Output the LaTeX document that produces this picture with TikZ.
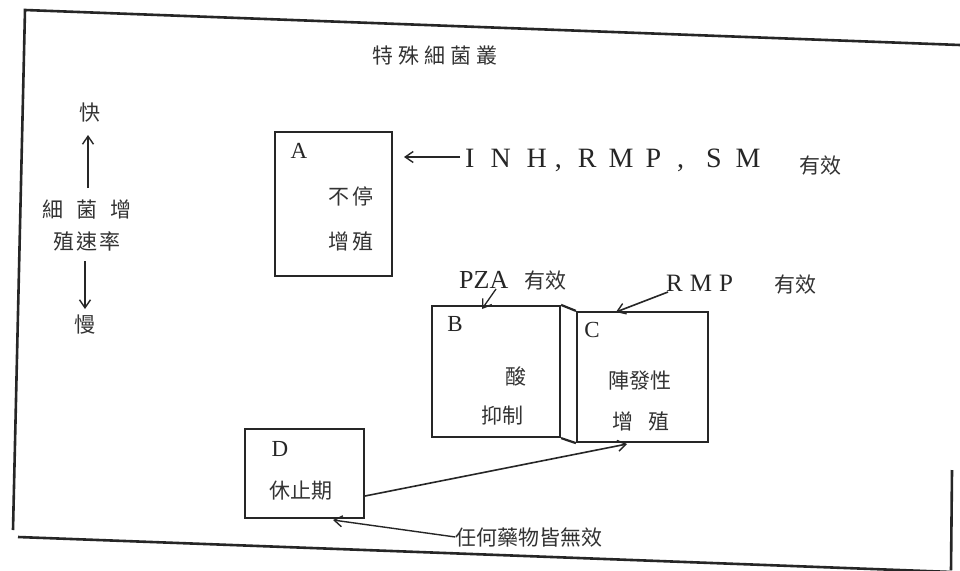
\documentclass[tikz,border=0pt]{standalone}
\usepackage{fontspec}
\setmainfont{Liberation Serif}
\newfontfamily\cjk{Noto Sans CJK TC}
\usetikzlibrary{arrows.meta}
\begin{document}
\begin{tikzpicture}[x=1pt,y=-1pt,
  frame/.style={line width=2.6pt,black!85},
  box/.style={draw,line width=2.2pt,black!85,inner sep=0pt},
  cj/.style={font=\cjk\fontsize{21}{25}\selectfont,text=black!80,inner sep=0pt},
  lat/.style={font=\fontsize{23}{26}\selectfont,text=black!85,inner sep=0pt},
  arr/.style={line width=1.4pt,black!85,-{Straight Barb[length=8pt,width=11pt,line width=1.4pt]}}]
\fill[white] (0,0) rectangle (960,570);
\useasboundingbox (0,0) rectangle (960,570);
% outer frame
\draw[frame] (13,530) -- (25,10) -- (960,45);
\draw[frame] (18,537) -- (952,572);
\draw[frame] (952,470) -- (951,570);
% title
\node[cj] (title) at (435,56) {特\hspace{5pt}殊\hspace{5pt}細\hspace{5pt}菌\hspace{5pt}叢};
% left scale
\node[cj] (fast) at (90,113) {快};
\node[cj] (row1) at (87,210) {細\hspace{13pt}菌\hspace{13pt}增};
\node[cj] (row2) at (87,241) {殖\hspace{2pt}速\hspace{2pt}率};
\node[cj] (slow) at (85,325) {慢};
\coordinate (upS) at (88,188);
\coordinate (upE) at (88,135);
\coordinate (dnS) at (85,261);
\coordinate (dnE) at (85,309);
\draw[arr] (upS) -- (upE);
\draw[arr] (dnS) -- (dnE);
% box A
\node[box,minimum width=117pt,minimum height=144pt] (A) at (333.5,204) {};
\node[lat] (Al) at (299,151) {A};
\node[cj] (A1) at (351,196) {不\hspace{3pt}停};
\node[cj] (A2) at (351,241) {增\hspace{3pt}殖};
\node[lat,anchor=west,font=\fontsize{28}{30}\selectfont] (inh) at (465,160) {I\hspace{16pt}N\hspace{16pt}H\hspace{8pt},\hspace{16pt}R\hspace{12pt}M\hspace{12pt}P\hspace{16pt},\hspace{22pt}S\hspace{14pt}M};
\node[cj] (inhe) at (820,166) {有效};
\coordinate (Atip) at (404,157);
\coordinate (Asrc) at (460,157);
\draw[arr,line width=1.2pt] (Asrc) -- (Atip);
% boxes B and C
\node[box,minimum width=128pt,minimum height=131pt] (B) at (496,371.5) {};
\node[box,minimum width=131pt,minimum height=130pt] (C) at (642.5,377) {};
\draw[line width=2.2pt,black!85] (B.north east) -- (C.north west);
\draw[line width=2.2pt,black!85] (B.south east) -- (C.south west);
\node[lat] (Bl) at (455,324) {B};
\node[cj] (B1) at (516,376) {酸};
\node[cj] (B2) at (502,416) {抑制};
\node[lat] (Cl) at (592,330) {C};
\node[cj] (C1) at (640,381) {陣發性};
\node[cj] (C2) at (641,421) {增\hspace{16pt}殖};
\node[lat,anchor=west,font=\fontsize{26}{28}\selectfont] (pza) at (459,280) {PZA};
\node[cj,anchor=west] (pzae) at (524,281) {有效};
\coordinate (Bsrc) at (496,289);
\coordinate (Btip) at (482,309);
\draw[arr,line width=1.3pt] (Bsrc) -- (Btip);
\node[lat,anchor=west,font=\fontsize{25}{28}\selectfont] (rmp) at (666,283) {R\hspace{7pt}M\hspace{7pt}P};
\node[cj,anchor=west] (rmpe) at (774,285) {有效};
\coordinate (Csrc) at (668,292);
\coordinate (Ctip) at (616,312);
\draw[arr,line width=1.6pt] (Csrc) -- (Ctip);
% box D
\node[box,minimum width=119pt,minimum height=89pt] (D) at (304.5,473.5) {};
\node[lat] (Dl) at (280,449) {D};
\node[cj] (D1) at (301,491) {休止期};
\coordinate (Dsrc) at (365,496);
\coordinate (Ctip2) at (627,444);
\draw[arr,line width=1.6pt] (Dsrc) -- (Ctip2);
\node[cj] (none) at (529,537) {任何藥物皆無效};
\coordinate (Dtip) at (333,520);
\draw[arr,line width=1.4pt] (none.west) -- (Dtip);
\end{tikzpicture}
\end{document}
